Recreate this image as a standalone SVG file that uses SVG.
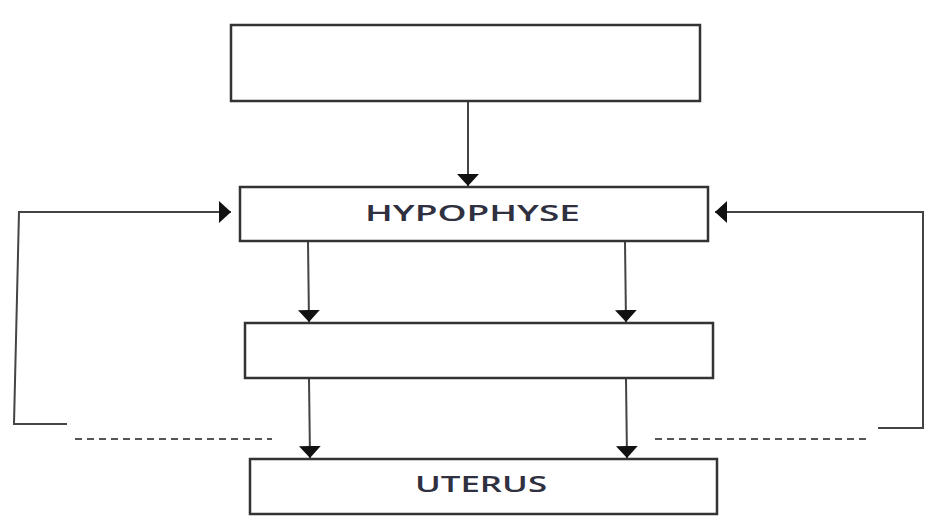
<svg xmlns="http://www.w3.org/2000/svg" width="930" height="528" viewBox="0 0 930 528">
<style>
.box{fill:#fff;stroke:#333;stroke-width:2.5}
.ln{fill:none;stroke:#444;stroke-width:2}
.dash{fill:none;stroke:#555;stroke-width:2;stroke-dasharray:7 5}
.lbl{font-family:"Open Sans","Liberation Sans",sans-serif;font-size:21px;font-weight:600;fill:#2f3040}
</style>
<defs>
<marker id="ahw" viewBox="0 0 10 10" refX="10" refY="5" markerWidth="12" markerHeight="22" markerUnits="userSpaceOnUse" orient="auto" preserveAspectRatio="none">
<path d="M0,0 L10,5 L0,10 z" fill="#111"/>
</marker>
</defs>
<rect width="930" height="528" fill="#fff"/>
<g id="connectors">
<line class="ln" x1="468" y1="101" x2="468" y2="186" marker-end="url(#ahw)"/>
<line class="ln" x1="308" y1="242" x2="309" y2="322" marker-end="url(#ahw)"/>
<line class="ln" x1="625" y1="242" x2="626" y2="322" marker-end="url(#ahw)"/>
<line class="ln" x1="309" y1="379" x2="310" y2="458" marker-end="url(#ahw)"/>
<line class="ln" x1="626" y1="379" x2="627" y2="458" marker-end="url(#ahw)"/>
<polyline class="ln" points="67,424 14,424 19,212 231,212" marker-end="url(#ahw)"/>
<polyline class="ln" points="878,428 923,428 923,212 715,212" marker-end="url(#ahw)"/>
<line class="dash" x1="75" y1="439" x2="272" y2="439"/>
<line class="dash" x1="655" y1="439" x2="867" y2="439"/>
</g>
<g id="node-top"><rect class="box" x="231" y="25" width="469" height="76"/></g>
<g id="node-hypophyse"><rect class="box" x="240" y="187" width="468" height="54"/>
<text class="lbl" x="365" y="221" textLength="215" lengthAdjust="spacingAndGlyphs">HYPOPHYSE</text></g>
<g id="node-middle"><rect class="box" x="245" y="323" width="468" height="55"/></g>
<g id="node-uterus"><rect class="box" x="250" y="459" width="467" height="55"/>
<text class="lbl" x="415" y="492" textLength="132" lengthAdjust="spacingAndGlyphs">UTERUS</text></g>
</svg>
